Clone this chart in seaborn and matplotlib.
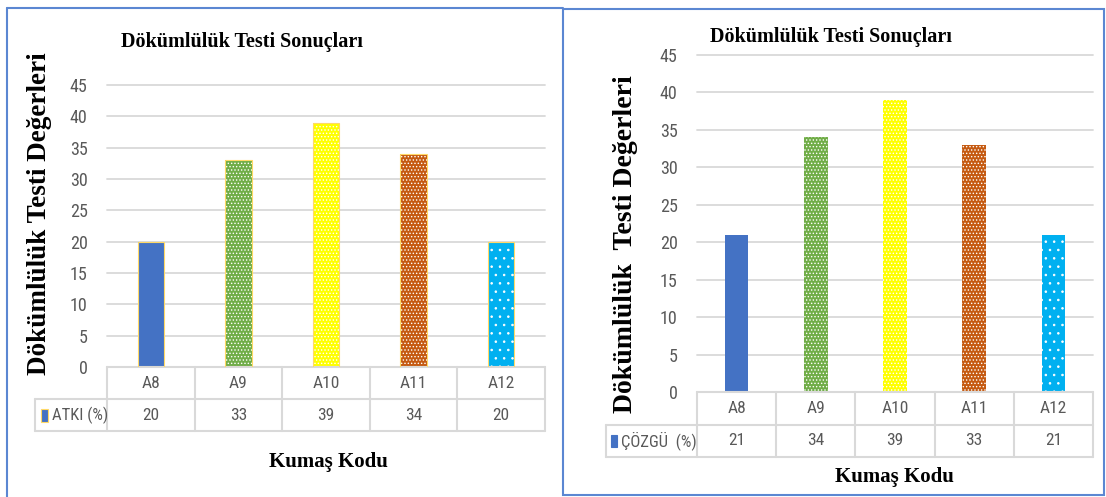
import matplotlib
matplotlib.use("Agg")
import matplotlib.pyplot as plt
from matplotlib import font_manager
from matplotlib.patches import Rectangle
from matplotlib.lines import Line2D
import seaborn as sns
import pandas as pd

# ---- data -------------------------------------------------------------
categories = ["A8", "A9", "A10", "A11", "A12"]
atki_values = [20, 33, 39, 34, 20]
cozgu_values = [21, 34, 39, 33, 21]
y_ticks = [0, 5, 10, 15, 20, 25, 30, 35, 40, 45]

title_text = "Dökümlülük Testi Sonuçları"
ylabel_left = "Dökümlülük Testi Değerleri"
ylabel_right = "Dökümlülük  Testi Değerleri"
xlabel_text = "Kumaş Kodu"
series_left = "ATKI (%)"
series_right = "ÇÖZGÜ  (%)"

# ---- style ------------------------------------------------------------
bar_colors = ["#4472C4", "#70AD47", "#FFFF00", "#C55A11", "#00B0F0"]
bar_hatches = [None, ".....", ".....", ".....", ".."]
GRID = "#D9D9D9"
TXT = "#595959"
BORDER = "#5B87D2"

sns.set_style("white")

# a narrow sans face for the axis and table text, when one is installed
narrow_family, narrow_stretch = "Liberation Sans", "normal"
fonts = font_manager.fontManager.ttflist
for name in ["Liberation Sans Narrow", "Roboto Condensed", "Open Sans Condensed",
             "Noto Sans", "DejaVu Sans", "Open Sans", "Roboto"]:
    hits = [f for f in fonts if f.name == name]
    if not hits:
        continue
    if "Narrow" in name or "Condensed" in name:
        narrow_family = name
        break
    cond = [f for f in hits if str(f.stretch) in ("condensed", "semi-condensed", "600", "700")
            and f.weight in (400, "normal", "regular")]
    if cond:
        narrow_family, narrow_stretch = name, cond[0].stretch
        break

plt.rcParams["font.family"] = [narrow_family, "DejaVu Sans"]
plt.rcParams["font.stretch"] = narrow_stretch
plt.rcParams["hatch.linewidth"] = 0.6
SERIF = ["Liberation Serif", "DejaVu Serif"]

W, H = 1106, 497
fig = plt.figure(figsize=(W / 100, H / 100), dpi=100)
fig.patch.set_facecolor("white")


def fx(px):
    return px / W


def fy(py):
    return 1 - py / H


def panel(box, values, series, bar_edge, table_left, row_px, key_box,
          title_xy, ylabel, ylabel_xy, ylabel_size, xlabel_xy):
    l, t, r, b = box
    ax = fig.add_axes([fx(l), fy(b), (r - l) / W, (b - t) / H])
    df = pd.DataFrame({"Kumaş Kodu": categories, "Değer": values})
    sns.barplot(data=df, x="Kumaş Kodu", y="Değer", hue="Kumaş Kodu",
                palette=bar_colors, saturation=1, width=0.3, legend=False, ax=ax)

    bars = sorted(ax.patches, key=lambda p: p.get_x())
    for p, hatch, color in zip(bars, bar_hatches, bar_colors):
        p.set_facecolor(color)
        p.set_edgecolor("white")
        p.set_linewidth(0)
        if hatch:
            p.set_hatch(hatch)
        if bar_edge:
            ax.add_patch(Rectangle((p.get_x(), p.get_y()), p.get_width(), p.get_height(),
                                   fill=False, edgecolor=bar_edge, linewidth=0.8, zorder=3))

    ax.set_xlim(-0.5, len(categories) - 0.5)
    ax.set_ylim(0, 45)
    ax.set_yticks(y_ticks)
    ax.grid(axis="y", color=GRID, linewidth=1.3)
    ax.grid(axis="x", visible=False)
    for gl in ax.get_ygridlines():
        gl.set_clip_on(False)
    ax.set_axisbelow(True)
    sns.despine(ax=ax, left=True, bottom=True)
    ax.tick_params(axis="y", length=0, pad=14, labelcolor=TXT, labelsize=13)
    ax.tick_params(axis="x", length=0, labelbottom=False)
    ax.set_xlabel("")
    ax.set_ylabel("")

    # data table under the plot area
    trans = ax.get_xaxis_transform()
    rh = row_px / (b - t)
    cat_px = (r - l) / len(categories)
    xl = -0.5 + (table_left - l) / cat_px
    xr = len(categories) - 0.5
    kw = dict(transform=trans, clip_on=False, color=GRID, linewidth=1.5, zorder=1)
    ax.plot([-0.5, xr], [0, 0], **kw)
    ax.plot([xl, xr], [-rh, -rh], **kw)
    ax.plot([xl, xr], [-2 * rh, -2 * rh], **kw)
    for i in range(len(categories) + 1):
        ax.plot([i - 0.5, i - 0.5], [0, -2 * rh], **kw)
    ax.plot([xl, xl], [-rh, -2 * rh], **kw)
    for i, (c, v) in enumerate(zip(categories, values)):
        ax.text(i, -rh / 2, c, transform=trans, ha="center", va="center",
                color=TXT, fontsize=12.5)
        ax.text(i, -1.5 * rh, str(v), transform=trans, ha="center", va="center",
                color=TXT, fontsize=12.5)

    kx0, ky0, kx1, ky1 = key_box
    fig.add_artist(Rectangle((fx(kx0), fy(ky1)), (kx1 - kx0) / W, (ky1 - ky0) / H,
                             transform=fig.transFigure, facecolor="#4472C4",
                             edgecolor=bar_edge or "#4472C4", linewidth=0.8))
    fig.text(fx(kx1 + 4), fy((ky0 + ky1) / 2), series, ha="left", va="center",
             color=TXT, fontsize=12)

    fig.text(fx(title_xy[0]), fy(title_xy[1]), title_text, ha="center", va="center",
             fontsize=14.5, fontweight="bold", family=SERIF, stretch="normal", color="black")
    fig.text(fx(ylabel_xy[0]), fy(ylabel_xy[1]), ylabel, ha="center", va="center",
             rotation=90, fontsize=ylabel_size, fontweight="bold", family=SERIF,
             stretch="normal", color="black")
    fig.text(fx(xlabel_xy[0]), fy(xlabel_xy[1]), xlabel_text, ha="center", va="center",
             fontsize=15, fontweight="bold", family=SERIF, stretch="normal", color="black")
    return ax


panel(box=(107, 85, 545, 367), values=atki_values, series=series_left,
      bar_edge="#FFD966", table_left=35, row_px=32, key_box=(41, 409, 48, 422),
      title_xy=(242, 42), ylabel=ylabel_left, ylabel_xy=(40, 214), ylabel_size=19.5,
      xlabel_xy=(328, 462))

panel(box=(697, 55, 1093, 392), values=cozgu_values, series=series_right,
      bar_edge=None, table_left=606, row_px=32.5, key_box=(611, 435, 617, 447),
      title_xy=(831, 37), ylabel=ylabel_right, ylabel_xy=(625, 244), ylabel_size=20,
      xlabel_xy=(894, 477))

# chart frames
fig.add_artist(Line2D([fx(7), fx(563)], [fy(8), fy(8)], transform=fig.transFigure,
                      color=BORDER, linewidth=1.5))
fig.add_artist(Line2D([fx(7), fx(7)], [fy(8), fy(497)], transform=fig.transFigure,
                      color=BORDER, linewidth=1.5))
fig.add_artist(Rectangle((fx(563), fy(495)), (1104 - 563) / W, (495 - 9) / H,
                         transform=fig.transFigure, fill=False, edgecolor=BORDER,
                         linewidth=1.5))

fig.savefig("out.png", dpi=100, facecolor="white")
